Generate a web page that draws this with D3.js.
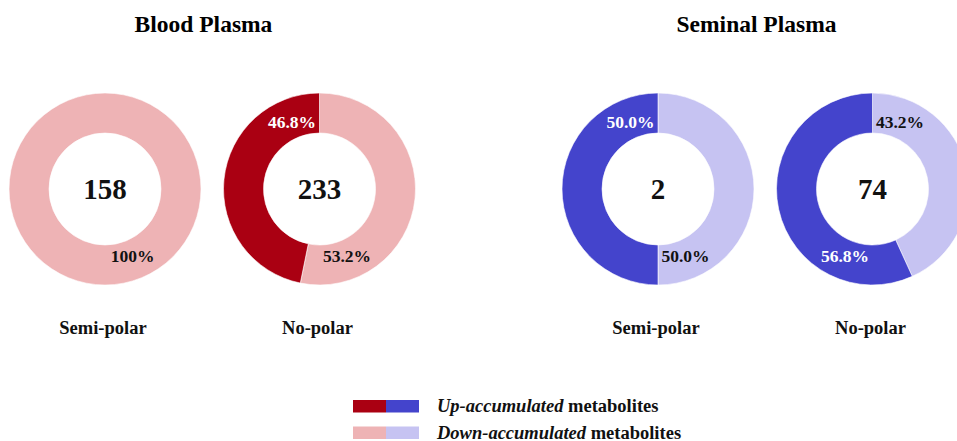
<!DOCTYPE html>
<html>
<head>
<meta charset="utf-8">
<script src="https://cdn.jsdelivr.net/npm/d3@7"></script>
<style>
  html, body { margin: 0; padding: 0; background: #fff; }
  svg { display: block; font-family: "Liberation Serif", "Times New Roman", serif; }
</style>
</head>
<body>
<svg id="chart" width="957" height="441"></svg>
<script>
// Metabolite counts per fraction and the share that went up / down
const panels = ["Blood Plasma", "Seminal Plasma"];
const categories = ["Semi-polar", "No-polar"];
const totals = [158, 233, 2, 74];
const upPct = [0, 46.8, 50.0, 56.8];
const downPct = [100, 53.2, 50.0, 43.2];
const legendLabels = [["Up-accumulated", " metabolites"], ["Down-accumulated", " metabolites"]];

const colors = {
  "Blood Plasma": { up: "#aa0012", down: "#eeb3b5" },
  "Seminal Plasma": { up: "#4444cc", down: "#c6c3f2" }
};

const svg = d3.select("#chart");

const panelX = d3.scalePoint().domain(panels).range([212.5, 765.5]);
const catOffset = d3.scalePoint().domain(categories).range([-107.5, 107]);
const cy = 189;
const rOuter = 96, rInner = 56;

const arc = d3.arc().innerRadius(rInner).outerRadius(rOuter);
const pie = d3.pie().sort(null).value(d => d.value);
const fmt = v => v === 100 ? "100%" : v.toFixed(1) + "%";

// Panel titles
svg.selectAll("text.title")
  .data(panels)
  .join("text")
  .attr("class", "title")
  .attr("x", d => panelX(d) - 9)
  .attr("y", 32)
  .attr("text-anchor", "middle")
  .attr("font-size", 23.5)
  .attr("font-weight", "bold")
  .text(d => d);

const donuts = [];
panels.forEach((p, pi) => {
  categories.forEach((c, ci) => {
    const i = pi * categories.length + ci;
    donuts.push({ panel: p, cat: c, total: totals[i], up: upPct[i], down: downPct[i] });
  });
});

donuts.forEach(d => {
  const cx = panelX(d.panel) + catOffset(d.cat);
  const g = svg.append("g").attr("transform", `translate(${cx},${cy})`);
  const slices = pie([
    { key: "down", value: d.down },
    { key: "up", value: d.up }
  ]);

  g.selectAll("path")
    .data(slices.filter(s => s.data.value > 0))
    .join("path")
    .attr("d", arc)
    .attr("fill", s => colors[d.panel][s.data.key])
    .attr("stroke", "#fff")
    .attr("stroke-width", 0.6);

  // Labels sit beside the vertical axis: at 6 o'clock when the slice crosses it, else at 12 o'clock
  slices.filter(s => s.data.value > 0).forEach(s => {
    const crossesBottom = s.startAngle < Math.PI && s.endAngle >= Math.PI;
    const side = s.data.key === "down" ? 1 : -1;
    const lx = side * 27.5;
    const ly = crossesBottom ? 67 : -67;
    g.append("text")
      .attr("x", lx)
      .attr("y", ly)
      .attr("dy", "0.35em")
      .attr("text-anchor", "middle")
      .attr("font-size", 17.5)
      .attr("font-weight", "bold")
      .attr("fill", s.data.key === "up" ? "#fff" : "#111")
      .text(fmt(s.data.value));
  });

  g.append("text")
    .attr("y", 0)
    .attr("dy", "0.35em")
    .attr("text-anchor", "middle")
    .attr("font-size", 29)
    .attr("font-weight", "bold")
    .attr("fill", "#111")
    .text(d.total);

  svg.append("text")
    .attr("x", cx - 2)
    .attr("y", 334)
    .attr("text-anchor", "middle")
    .attr("font-size", 18.5)
    .attr("font-weight", "bold")
    .attr("fill", "#111")
    .text(d.cat);
});

// Legend: paired swatches for both panels
const legend = svg.append("g");
const keys = ["up", "down"];
keys.forEach((k, ki) => {
  const y0 = 400 + ki * 26.5;
  panels.forEach((p, pi) => {
    legend.append("rect")
      .attr("x", 353 + pi * 33)
      .attr("y", y0)
      .attr("width", 33)
      .attr("height", 12.5)
      .attr("fill", colors[p][k]);
  });
  const t = legend.append("text")
    .attr("x", 437)
    .attr("y", y0 + 12)
    .attr("font-size", 18.5)
    .attr("font-weight", "bold")
    .attr("fill", "#111");
  t.append("tspan").attr("font-style", "italic").text(legendLabels[ki][0]);
  t.append("tspan").text(legendLabels[ki][1]);
});
</script>
</body>
</html>
